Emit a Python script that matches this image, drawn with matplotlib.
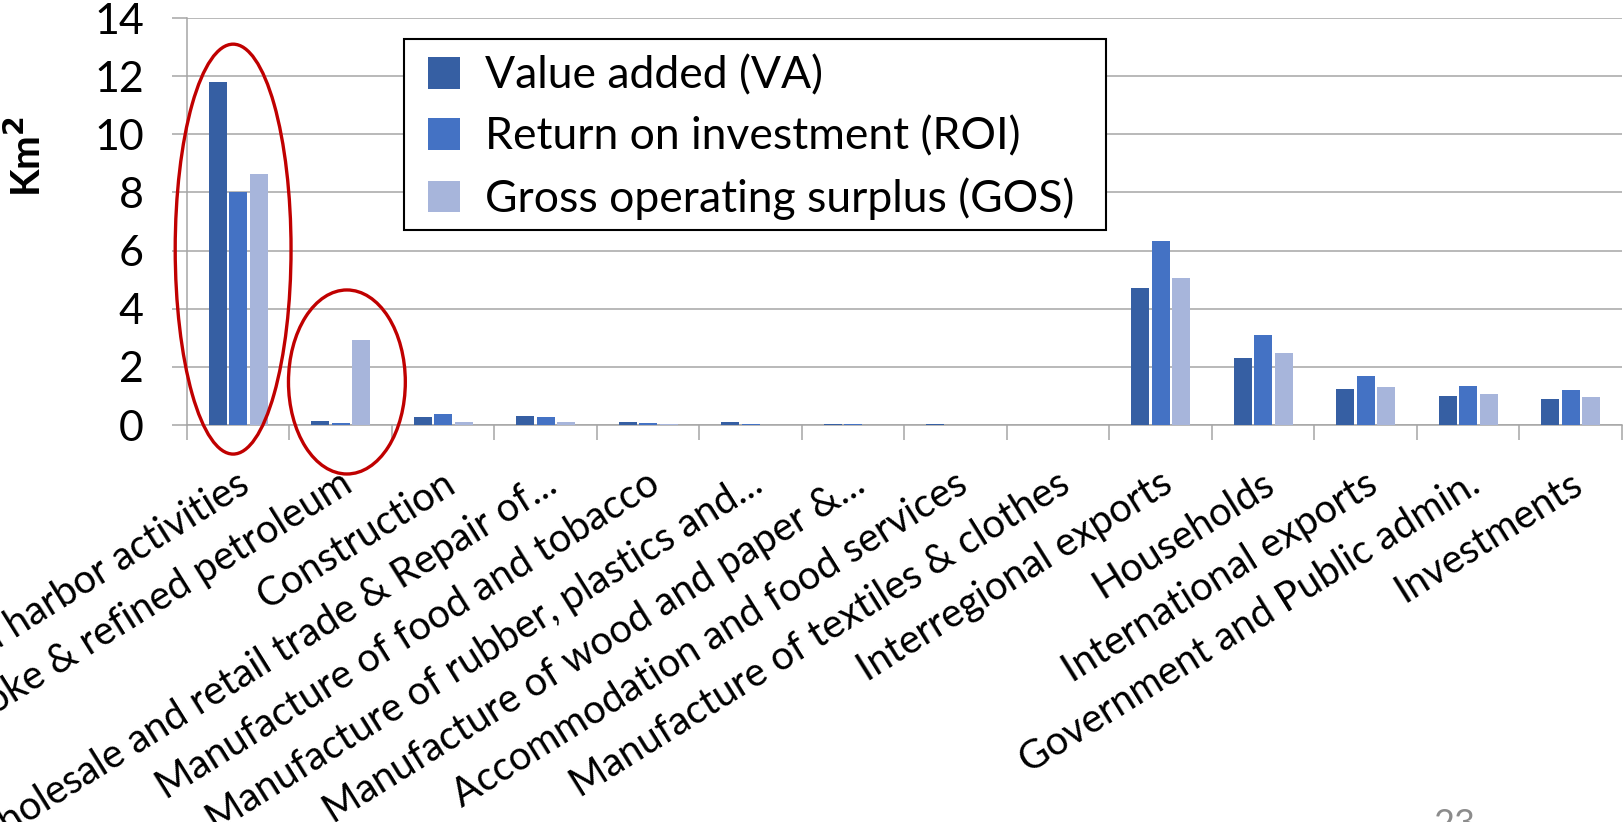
import numpy as np
import matplotlib.pyplot as plt
import matplotlib.transforms as mtransforms
from matplotlib.patches import Ellipse, Rectangle

# categories (left ones are cut by the slide edge in the original)
categories = ['Port and harbor activities', 'Coke & refined petroleum', 'Construction',
              'Wholesale and retail trade & Repair of...', 'Manufacture of food and tobacco',
              'Manufacture of rubber, plastics and...', 'Manufacture of wood and paper &...',
              'Accommodation and food services', 'Manufacture of textiles & clothes',
              'Interregional exports', 'Households', 'International exports',
              'Government and Public admin.', 'Investments']

va_vals = [11.8, 0.14, 0.26, 0.30, 0.09, 0.10, 0.03, 0.02, 0.005, 4.70, 2.29, 1.23, 0.99, 0.89]
roi_vals = [8.03, 0.06, 0.37, 0.26, 0.08, 0.03, 0.02, 0.01, 0.004, 6.33, 3.09, 1.67, 1.34, 1.20]
gos_vals = [8.64, 2.92, 0.09, 0.12, 0.03, 0.01, 0.01, 0.005, 0.003, 5.05, 2.46, 1.32, 1.07, 0.95]

series_names = ['Value added (VA)', 'Return on investment (ROI)', 'Gross operating surplus (GOS)']
colors = ['#365FA3', '#4472C4', '#A7B5DB']

plt.rcParams['font.family'] = ['Lato', 'DejaVu Sans']

W, H = 1624, 822
fig = plt.figure(figsize=(W / 100, H / 100), dpi=100)
ax = fig.add_axes([187 / W, 1 - 425 / H, 1435 / W, 407 / H])

x = np.arange(len(categories))
for i, (vals, name) in enumerate(zip([va_vals, roi_vals, gos_vals], series_names)):
    ax.bar(x + (i - 1) * 0.2, vals, width=0.178, color=colors[i], label=name, zorder=3)

ax.set_xlim(-0.5, len(categories) - 0.5)
ax.set_ylim(0, 14)
ax.set_yticks(range(0, 15, 2))
ax.yaxis.grid(True, color='#A6A6A6', lw=1.1, zorder=0)

for s in ['top', 'right']:
    ax.spines[s].set_visible(False)
for s in ['left', 'bottom']:
    ax.spines[s].set_color('#A6A6A6')
    ax.spines[s].set_linewidth(1.1)

ax.tick_params(axis='y', direction='out', length=11, width=1.1, color='#A6A6A6',
               labelsize=31, pad=20)
ax.set_xticks(x)
ax.set_xticks(np.arange(-0.5, len(categories), 1), minor=True)
ax.tick_params(axis='x', which='minor', direction='out', length=11, width=1.1, color='#A6A6A6')
ax.tick_params(axis='x', which='major', length=0, pad=40)
ax.set_xticklabels(categories, rotation=32, ha='right', va='center',
                   rotation_mode='anchor', fontsize=28.5)
shift = mtransforms.ScaledTranslation(8 / 100, 0, fig.dpi_scale_trans)
for lab in ax.get_xticklabels():
    lab.set_transform(lab.get_transform() + shift)

fig.text(27 / W, 1 - 157 / H, 'Km$^\\mathbf{2}$', rotation=90, fontsize=29,
         fontweight='bold', ha='center', va='center')

# red circles around highlighted groups
ax.add_patch(Ellipse((-0.05, 6.05), 1.13, 14.1, fill=False, ec='#C00000', lw=2.4,
                     clip_on=False, zorder=5))
ax.add_patch(Ellipse((1.06, 1.48), 1.14, 6.33, fill=False, ec='#C00000', lw=2.4,
                     clip_on=False, zorder=5))

# legend box drawn by hand, entries placed inside it
ax.add_patch(Rectangle((404 / W, 1 - 230 / H), 702 / W, 191 / H, transform=fig.transFigure,
                       fc='white', ec='black', lw=1.5, zorder=4, clip_on=False))
leg = ax.legend(loc='upper left', bbox_to_anchor=(428 / W, 1 - 55 / H),
                bbox_transform=fig.transFigure, fontsize=32, frameon=False,
                handlelength=0.72, handleheight=0.72, handletextpad=0.56,
                labelspacing=0.45, borderpad=0, borderaxespad=0)
leg.set_zorder(6)

fig.text(1454 / W, 1 - 808 / H, '23', color='#8C8C8C', fontsize=26,
         ha='center', va='top')

fig.savefig('out.png', dpi=100)
